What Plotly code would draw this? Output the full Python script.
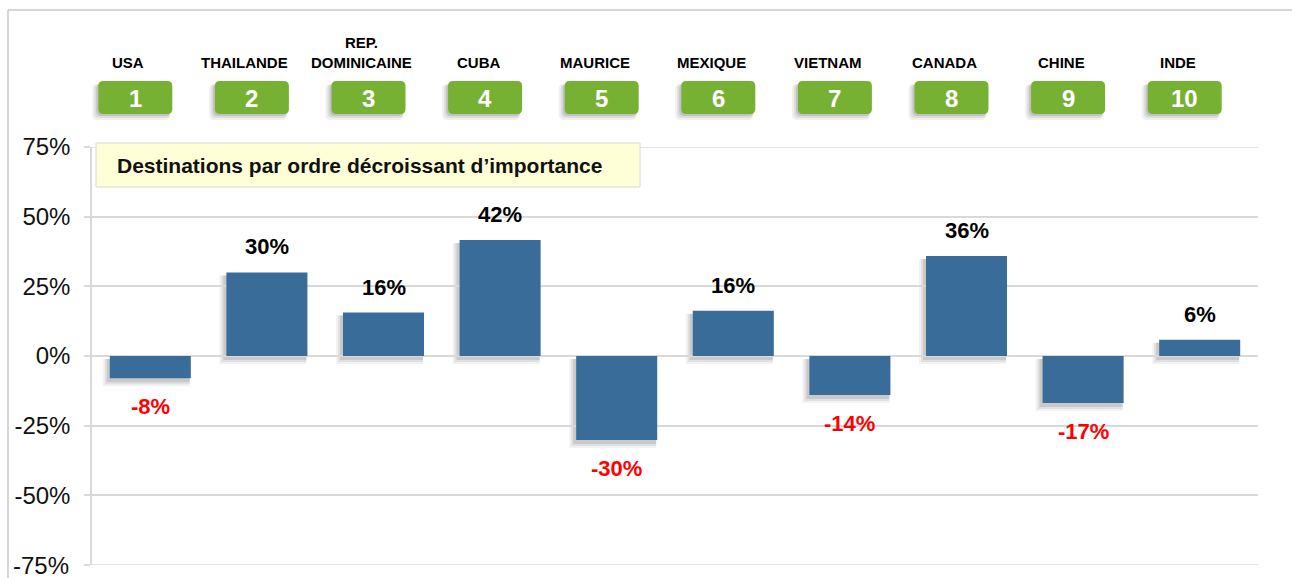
import plotly.graph_objects as go

ranks = [1, 2, 3, 4, 5, 6, 7, 8, 9, 10]
countries = ["USA", "THAILANDE", "REP.<br>DOMINICAINE", "CUBA", "MAURICE",
             "MEXIQUE", "VIETNAM", "CANADA", "CHINE", "INDE"]
values = [-8, 30, 15.6, 41.6, -30.1, 16.2, -14, 35.9, -16.9, 5.8]
title_text = "Destinations par ordre décroissant d\u2019importance"
tick_vals = [-75, -50, -25, 0, 25, 50, 75]
tick_text = ["-75%", "-50%", "-25%", "0%", "25%", "50%", "75%"]

W, H = 1292, 578
L, R, T, B = 92, 34, 147, 13
PW, PH = W - L - R, H - T - B
FONT = "Arial, Liberation Sans, sans-serif"
GRID = "#D9D9D9"

def px_x(px):
    return (px - L) / PW

def px_y(py):
    return (H - B - py) / PH

def cat_px(c):
    return L + (c - 0.5) * PW / len(ranks)

def rounded_path(x0, y0, x1, y1, r):
    def P(x, y):
        return f"{px_x(x):.5f},{px_y(y):.5f}"
    return (f"M {P(x0 + r, y0)} L {P(x1 - r, y0)} Q {P(x1, y0)} {P(x1, y0 + r)} "
            f"L {P(x1, y1 - r)} Q {P(x1, y1)} {P(x1 - r, y1)} "
            f"L {P(x0 + r, y1)} Q {P(x0, y1)} {P(x0, y1 - r)} "
            f"L {P(x0, y0 + r)} Q {P(x0, y0)} {P(x0 + r, y0)} Z")

fig = go.Figure()
fig.add_trace(go.Bar(x=ranks, y=values, marker=dict(color="#396C99", line=dict(width=0)),
                     width=0.695, hoverinfo="skip"))

shapes = []
annotations = []

# outer frame
shapes.append(dict(type="line", xref="paper", yref="paper", x0=px_x(8), x1=px_x(1292),
                   y0=px_y(10), y1=px_y(10), line=dict(color="#C8C8C8", width=1.5)))
shapes.append(dict(type="line", xref="paper", yref="paper", x0=px_x(8), x1=px_x(8),
                   y0=px_y(10), y1=px_y(578), line=dict(color="#C8C8C8", width=1.5)))

# edge gridlines (range ends)
for tv in (tick_vals[0], tick_vals[-1]):
    shapes.append(dict(type="line", xref="paper", yref="y", layer="below",
                       x0=px_x(86), x1=1, y0=tv, y1=tv,
                       line=dict(color=GRID, width=1.5)))

# bar shadows
for c, v in zip(ranks, values):
    cx = cat_px(c)
    half = 0.695 * PW / len(ranks) / 2
    ytop = max(v, 0)
    ybot = min(v, 0)
    py_top = H - B - (ytop + 75) / 150 * PH
    py_bot = H - B - (ybot + 75) / 150 * PH
    for k, a in [(7, 0.05), (5, 0.07), (3, 0.1)]:
        shapes.append(dict(type="rect", xref="paper", yref="paper", layer="below",
                           x0=px_x(cx - half - k), x1=px_x(cx + half - 1),
                           y0=px_y(py_top + 3), y1=px_y(py_bot + k + 1),
                           fillcolor=f"rgba(0,0,0,{a})", line=dict(width=0)))

# header boxes
for c, name in zip(ranks, countries):
    bx = cat_px(c) - 15
    x0, x1, y0, y1 = bx - 37, bx + 37, 81, 114
    for k, a in [(6, 0.06), (4, 0.08), (2, 0.12)]:
        shapes.append(dict(type="path", xref="paper", yref="paper",
                           path=rounded_path(x0 - k, y0 + 3, x1 - 2, y1 + k, 5),
                           fillcolor=f"rgba(0,0,0,{a})", line=dict(width=0)))
    shapes.append(dict(type="path", xref="paper", yref="paper",
                       path=rounded_path(x0, y0, x1, y1, 5),
                       fillcolor="#77B134", line=dict(width=0)))
    annotations.append(dict(xref="paper", yref="paper", x=px_x(bx), y=px_y(98),
                            text=f"<b>{c}</b>", showarrow=False, xanchor="center", yanchor="middle",
                            font=dict(family=FONT, size=24, color="white")))
    annotations.append(dict(xref="paper", yref="paper", x=px_x(bx - 7), y=px_y(73),
                            text=f"<b>{name}</b>", showarrow=False, xanchor="center", yanchor="bottom",
                            font=dict(family=FONT, size=15, color="black")))

# legend/title box
shapes.append(dict(type="rect", xref="paper", yref="paper", x0=px_x(96), x1=px_x(640),
                   y0=px_y(143), y1=px_y(187), fillcolor="#FFFFD7",
                   line=dict(color="#D8D8D8", width=1)))
annotations.append(dict(xref="paper", yref="paper", x=px_x(115), y=px_y(166),
                        text=f"<b>{title_text}</b>", showarrow=False, xanchor="left", yanchor="middle",
                        font=dict(family=FONT, size=21, color="#111111")))

# value labels
for c, v in zip(ranks, values):
    label = f"<b>{round(v):d}%</b>"
    if v >= 0:
        annotations.append(dict(x=c, y=v, xref="x", yref="y", text=label, showarrow=False,
                                xanchor="center", yanchor="bottom", yshift=11,
                                font=dict(family=FONT, size=22, color="black")))
    else:
        annotations.append(dict(x=c, y=v, xref="x", yref="y", text=label, showarrow=False,
                                xanchor="center", yanchor="top", yshift=-14,
                                font=dict(family=FONT, size=22, color="#FF0000")))

# bottom tick label (plotly hides tick labels that touch the page edge)
shown_text = [""] + tick_text[1:]
annotations.append(dict(xref="paper", yref="y", x=px_x(71), y=tick_vals[0], text=tick_text[0],
                        showarrow=False, xanchor="right", yanchor="middle",
                        font=dict(family=FONT, size=24, color="#111111")))

fig.update_layout(
    width=W, height=H,
    margin=dict(l=L, r=R, t=T, b=B, pad=0, autoexpand=False),
    paper_bgcolor="white", plot_bgcolor="white",
    showlegend=False,
    shapes=shapes, annotations=annotations,
    xaxis=dict(range=[0.5, 10.5], showticklabels=False, showgrid=False, zeroline=False,
               showline=False, ticks="", automargin=False),
    yaxis=dict(range=[-75, 75], tickvals=tick_vals, ticktext=shown_text, automargin=False,
               showgrid=True, gridcolor=GRID, gridwidth=1.5, zeroline=False,
               showline=True, linecolor=GRID, linewidth=1.5,
               ticks="outside", ticklen=6, tickcolor=GRID, tickwidth=1.5,
               ticklabelstandoff=9,
               tickfont=dict(family=FONT, size=24, color="#111111")),
)

fig.write_html("out.html", config={"displayModeBar": False},
               post_script="document.body.style.margin='0';document.body.style.overflow='hidden';")
